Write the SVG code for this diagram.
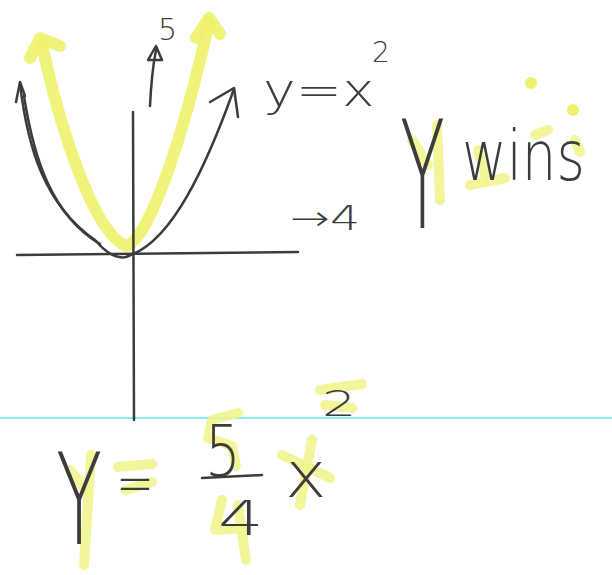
<svg xmlns="http://www.w3.org/2000/svg" width="612" height="575" viewBox="0 0 612 575">
<style>
.ink{fill:none;stroke:#3c3c3c;stroke-width:2.5;stroke-linecap:round;stroke-linejoin:round}
.hl{fill:none;stroke:#eef26a;stroke-width:12;stroke-linecap:round;stroke-linejoin:round;opacity:0.9}
.hs{fill:none;stroke:#f1f38a;stroke-width:10;stroke-linecap:round;stroke-linejoin:round;opacity:0.85}
.t{font-family:"DejaVu Sans","Liberation Sans",sans-serif;font-weight:200;fill:#3c3c3c}
</style>
<rect width="612" height="575" fill="#ffffff"/>
<g id="guide"><line x1="0" y1="418" x2="612" y2="418" stroke="#86eef2" stroke-width="2"/></g>
<g id="highlight-parabola">
<path class="hl" d="M42,44 C58,120 92,232 126,246 C150,240 185,130 209,22"/>
<path class="hl" d="M30,58 L40,38 L60,46"/>
<path class="hl" d="M196,38 L209,18 L220,34"/>
</g>
<g id="axes">
<line class="ink" x1="17" y1="255" x2="298" y2="252"/>
<path class="ink" d="M133,112 L134,420"/>
</g>
<g id="parabola">
<path class="ink" d="M20,84 C28,150 45,205 95,240 Q112,260 126,257 L133,254 C172,238 205,170 234,89"/>
<path class="ink" d="M210,102 L234,88 L238,117"/>
<path class="ink" d="M16,102 L20,82 L25,96"/>
<path class="ink" d="M24,96 C34,160 52,215 100,244"/>
</g>
<g id="arrow-5">
<path class="ink" d="M150,106 C151,85 153,65 156,50"/>
<path class="ink" d="M148,60 L156,46 L162,60 Z"/>
<text class="t" x="158" y="40" font-size="30">5</text>
</g>
<g id="label-yx2">
<text class="t" transform="translate(263,106) scale(1.2,1)" font-size="46">y=x</text>
<text class="t" x="372" y="62" font-size="28">2</text>
</g>
<g id="label-4">
<text class="t" transform="translate(290,230) scale(1.4,1)" font-size="34">→4</text>
</g>
<g id="y-wins">
<path class="hs" d="M437,125 L440,200"/>
<path class="hs" d="M412,140 L428,165"/>
<circle cx="531" cy="83" r="6" fill="#eef26a"/>
<circle cx="573" cy="110" r="6" fill="#eef26a"/>
<path class="hs" d="M478,150 L486,178" opacity="0.5"/>
<path class="hs" d="M470,185 L505,178" opacity="0.5"/>
<path class="hs" d="M535,135 L548,130" opacity="0.6"/>
<path class="hs" d="M575,140 L580,152" opacity="0.6"/>
<text class="t" transform="translate(400,228) scale(0.49,1)" font-size="150">Y</text>
<text class="t" transform="translate(462,180) scale(0.78,1)" font-size="70">wins</text>
</g>
<g id="equation">
<path class="hs" d="M91,455 L84,565"/>
<path class="hs" d="M70,470 L88,492"/>
<path class="hs" d="M118,467 L152,464"/>
<path class="hs" d="M126,490 L152,482"/>
<path class="hs" d="M238,413 L212,420 L208,438 L232,446 L236,466"/>
<path class="hs" d="M222,500 L215,530 L245,528"/>
<path class="hs" d="M238,505 L246,560"/>
<path class="hs" d="M282,455 L330,478"/>
<path class="hs" d="M312,440 L300,505"/>
<path class="hs" d="M320,390 L362,384"/>
<path class="hs" d="M325,405 L352,408"/>
<text class="t" transform="translate(56,544) scale(0.6,1)" font-size="126">Y</text>
<text class="t" transform="translate(116,503) scale(0.78,1)" font-size="58">=</text>
<text class="t" transform="translate(205,476) scale(0.78,1)" font-size="72">5</text>
<line class="ink" x1="202" y1="478" x2="262" y2="475"/>
<text class="t" transform="translate(218,535) scale(1.5,1)" font-size="48">4</text>
<text class="t" transform="translate(285,497) scale(1.1,1)" font-size="64">x</text>
<text class="t" transform="translate(322,416) scale(1.5,1)" font-size="36">2</text>
</g>
</svg>
